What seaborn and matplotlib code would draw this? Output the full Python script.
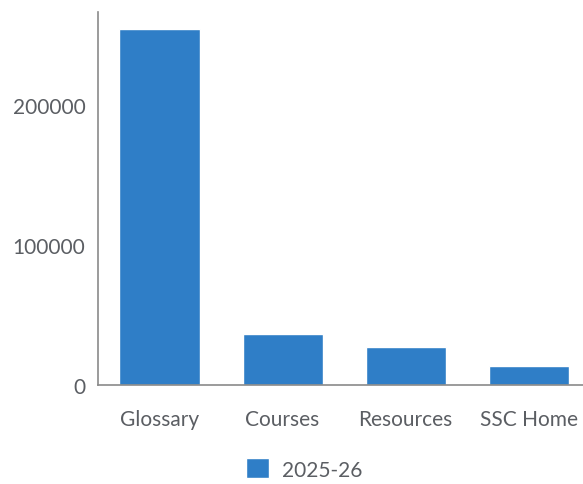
import matplotlib
matplotlib.use("Agg")
import matplotlib.pyplot as plt
import seaborn as sns
import pandas as pd

# Data
pages = ["Glossary", "Courses", "Resources", "SSC Home"]
visits = [254000, 36400, 27400, 13600]
season = "2025-26"

df = pd.DataFrame({"page": pages, "visits": visits, "season": season})

sns.set_theme(style="white")
plt.rcParams['font.family'] = ['Lato', 'DejaVu Sans']

text_col = "#5b5e63"
axis_col = "#8a8a8a"
bar_col = "#2f7ec7"

fig = plt.figure(figsize=(5.83, 4.85), dpi=100)
ax = fig.add_axes([0.168, 0.204, 0.832, 0.769])

sns.barplot(data=df, x="page", y="visits", hue="season", palette=[bar_col],
            saturation=1, width=0.65, ax=ax, legend=True)

ax.set_xlim(-0.5, 3.44)
ax.set_ylim(0, 266400)
ax.set_yticks([0, 100000, 200000])
ax.set_yticklabels(["0", "100000", "200000"])
ax.set_xlabel("")
ax.set_ylabel("")

for s in ["top", "right"]:
    ax.spines[s].set_visible(False)
for s in ["left", "bottom"]:
    ax.spines[s].set_color(axis_col)
    ax.spines[s].set_linewidth(1.2)

ax.tick_params(axis="both", length=0, labelsize=15, colors=text_col)
ax.tick_params(axis="y", pad=9)
ax.tick_params(axis="x", pad=17)

leg = ax.legend(loc="center", bbox_to_anchor=(0.425, -0.225), frameon=False,
                fontsize=15, handlelength=1.1, handleheight=1.1, handletextpad=0.6)
for t in leg.get_texts():
    t.set_color(text_col)

fig.savefig("out.png", dpi=100)
